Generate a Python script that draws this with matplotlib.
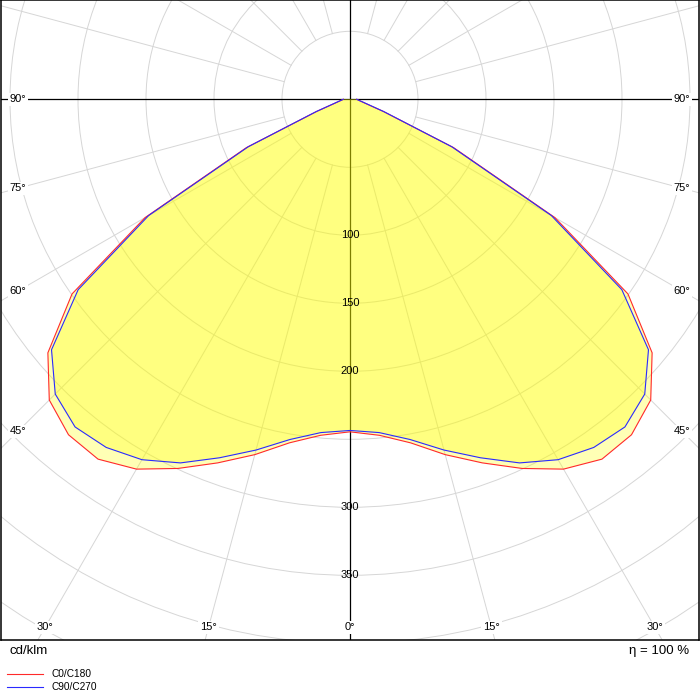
import numpy as np
import matplotlib
matplotlib.use("Agg")
import matplotlib.pyplot as plt
from matplotlib.patches import Circle
from matplotlib.lines import Line2D

plt.rcParams['font.family'] = ['Liberation Sans', 'DejaVu Sans']

# gamma angles (deg from nadir) and intensities in cd/klm, symmetric both sides
gamma = np.arange(0, 91, 5)
c0_c180 = np.array([244.5, 248, 256.5, 270.5, 284.5, 299.5, 314, 323, 322, 312.7,
                    290, 249.5, 174, 84, 26, 12, 8, 6, 5])
c90_c270 = np.array([243.5, 246, 254, 267, 280.5, 295, 306, 312.5, 314.5, 306.5,
                     286.5, 244, 171, 82.5, 26.5, 12.5, 8.2, 6.1, 5])
series_names = ['C0/C180', 'C90/C270']
series_colors = ['#ff2a2a', '#2a2aff']
ring_values = [100, 150, 200, 300, 350]
angle_ticks = [0, 15, 30, 45, 60, 75, 90]

px = 1.36  # pixels per cd/klm in the 700px figure


def curve_xy(g, r):
    ang = np.concatenate([-g[::-1], g[1:]])
    rr = np.concatenate([r[::-1], r[1:]])
    t = np.radians(ang)
    return rr * np.sin(t), -rr * np.cos(t)


fig = plt.figure(figsize=(7, 7), dpi=100)
ax = fig.add_axes([1 / 700, 60 / 700, 698 / 700, 640 / 700])
ax.set_xlim(-349 / px, 349 / px)
ax.set_ylim(-540.7 / px, 99.3 / px)
ax.set_xticks([])
ax.set_yticks([])
for s in ax.spines.values():
    s.set_linewidth(1.1)
    s.set_color('black')

# polar grid
for r in range(50, 601, 50):
    ax.add_patch(Circle((0, 0), r, fill=False, ec='#d6d6d6', lw=0.7, zorder=1))
for a in range(0, 360, 15):
    if a % 90 == 0:
        continue
    t = np.radians(a)
    ax.plot([50 * np.sin(t), 700 * np.sin(t)], [-50 * np.cos(t), -700 * np.cos(t)],
            color='#d6d6d6', lw=0.7, zorder=1)
ax.axhline(0, color='black', lw=0.9, zorder=2)
ax.axvline(0, color='black', lw=0.9, zorder=2)

# light distribution curves
for vals, name, col in zip([c0_c180, c90_c270], series_names, series_colors):
    x, y = curve_xy(gamma, vals)
    ax.fill(x, y, color='#ffff00', alpha=0.29, lw=0, zorder=3)
    ax.plot(x, y, color=col, lw=0.8, zorder=4)

# radial value labels
for v in ring_values:
    ax.text(0, -v, str(v), ha='center', va='center', fontsize=8, zorder=6)

# angle labels along the frame
xe, ye = 332 / px, 528 / px
for a in angle_ticks:
    for side in ([1] if a == 0 else [-1, 1]):
        if a == 90:
            pos = (side * xe, 0)
        else:
            t = np.radians(a)
            yy = xe / np.tan(t) if a else np.inf
            if yy > ye:
                pos = (side * ye * np.tan(t), -ye)
            else:
                pos = (side * xe, -yy)
        ax.text(pos[0], pos[1], f'{a}°', ha='center', va='center', fontsize=8,
                zorder=6, bbox=dict(boxstyle='square,pad=0.15', fc='white', ec='none'))

fig.text(9 / 700, 1 - 651 / 700, 'cd/klm', ha='left', va='center', fontsize=9.5)
fig.text(689 / 700, 1 - 651 / 700, 'η = 100 %', ha='right', va='center', fontsize=9.5)

for i, (name, col) in enumerate(zip(series_names, series_colors)):
    yl = 1 - (674 + 13 * i) / 700
    fig.add_artist(Line2D([7 / 700, 43 / 700], [yl, yl], color=col, lw=0.8))
    fig.text(52 / 700, yl, name, ha='left', va='center', fontsize=7.3)

fig.savefig('out.png', dpi=100)
